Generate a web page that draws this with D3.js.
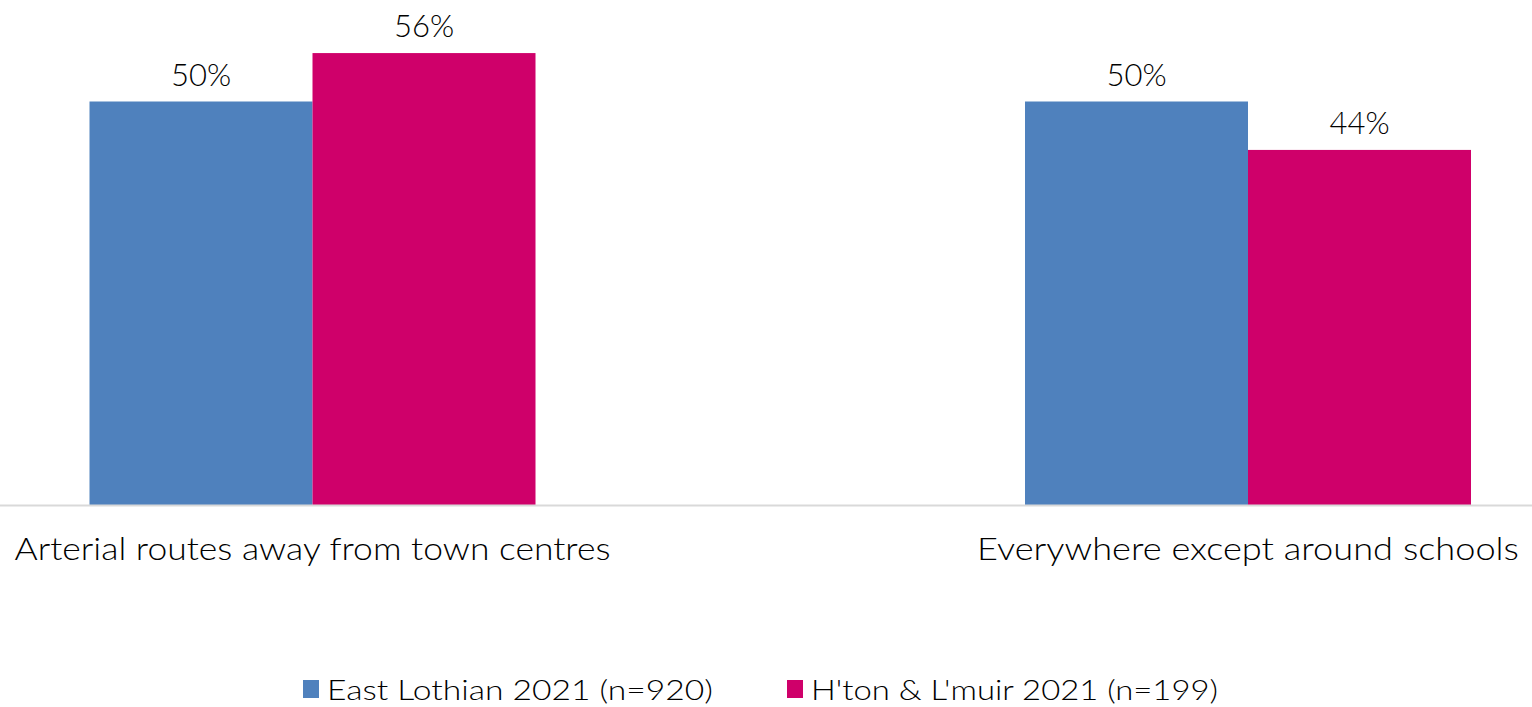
<!DOCTYPE html>
<html>
<head>
<meta charset="utf-8">
<script src="https://cdn.jsdelivr.net/npm/d3@7"></script>
<style>
  html, body { margin: 0; padding: 0; background: #fff; }
  svg { display: block; font-family: "Lato", "DejaVu Sans", sans-serif; }
</style>
</head>
<body>
<svg id="chart" width="1532" height="707"></svg>
<script>
// Share of respondents by location where limits should apply
const categories = ["Arterial routes away from town centres", "Everywhere except around schools"];
const seriesNames = ["East Lothian 2021 (n=920)", "H'ton & L'muir 2021 (n=199)"];
const seriesColors = ["#4F81BD", "#CF006A"];
const eastLothian = [50, 50];
const htonLmuir = [56, 44];
const seriesValues = [eastLothian, htonLmuir];
const categoryLabelWidths = [596, 542];
const legendLabelWidths = [386, 407];

const svg = d3.select("#chart");
const W = 1532;
const baseY = 505;

const y = d3.scaleLinear().domain([0, 60]).range([baseY, baseY - 60 * 8.07]);

// group centres sit on a point scale, bars split a band inside each group
const x0 = d3.scalePoint().domain(categories).range([312.5, 1248]);
const groupWidth = 446;
const x1 = d3.scaleBand().domain(seriesNames).range([-groupWidth / 2, groupWidth / 2]).padding(0);

const rows = categories.map((c, i) => ({
  cat: c,
  vals: seriesNames.map((s, j) => ({ series: s, j, value: seriesValues[j][i] }))
}));

const groups = svg.selectAll("g.grp").data(rows).join("g")
  .attr("class", "grp")
  .attr("transform", d => `translate(${x0(d.cat)},0)`);

groups.selectAll("rect").data(d => d.vals).join("rect")
  .attr("x", d => x1(d.series))
  .attr("width", x1.bandwidth())
  .attr("y", d => y(d.value))
  .attr("height", d => y(0) - y(d.value))
  .attr("fill", d => seriesColors[d.j]);

groups.selectAll("text.val").data(d => d.vals).join("text")
  .attr("class", "val")
  .attr("x", d => x1(d.series) + x1.bandwidth() / 2)
  .attr("y", d => y(d.value) - 16)
  .attr("text-anchor", "middle")
  .attr("font-size", 31)
  .attr("font-weight", 300)
  .attr("fill", "#000")
  .text(d => d.value + "%");

// category axis line
svg.append("line")
  .attr("x1", 0).attr("x2", W)
  .attr("y1", baseY + 0.5).attr("y2", baseY + 0.5)
  .attr("stroke", "#D9D9D9").attr("stroke-width", 2);

// category labels
svg.selectAll("text.cat").data(categories).join("text")
  .attr("class", "cat")
  .attr("x", d => x0(d))
  .attr("y", 560)
  .attr("text-anchor", "middle")
  .attr("font-size", 32)
  .attr("font-weight", 300)
  .attr("fill", "#000")
  .attr("textLength", (d, i) => categoryLabelWidths[i])
  .attr("lengthAdjust", "spacingAndGlyphs")
  .text(d => d);

// legend
const legendX = [303, 787];
const legend = svg.selectAll("g.leg").data(seriesNames).join("g")
  .attr("class", "leg")
  .attr("transform", (d, i) => `translate(${legendX[i]},680)`);
legend.append("rect")
  .attr("width", 16).attr("height", 18)
  .attr("fill", (d, i) => seriesColors[i]);
legend.append("text")
  .attr("x", 24).attr("y", 20)
  .attr("font-size", 28)
  .attr("font-weight", 300)
  .attr("fill", "#000")
  .attr("textLength", (d, i) => legendLabelWidths[i])
  .attr("lengthAdjust", "spacingAndGlyphs")
  .text(d => d);
</script>
</body>
</html>
